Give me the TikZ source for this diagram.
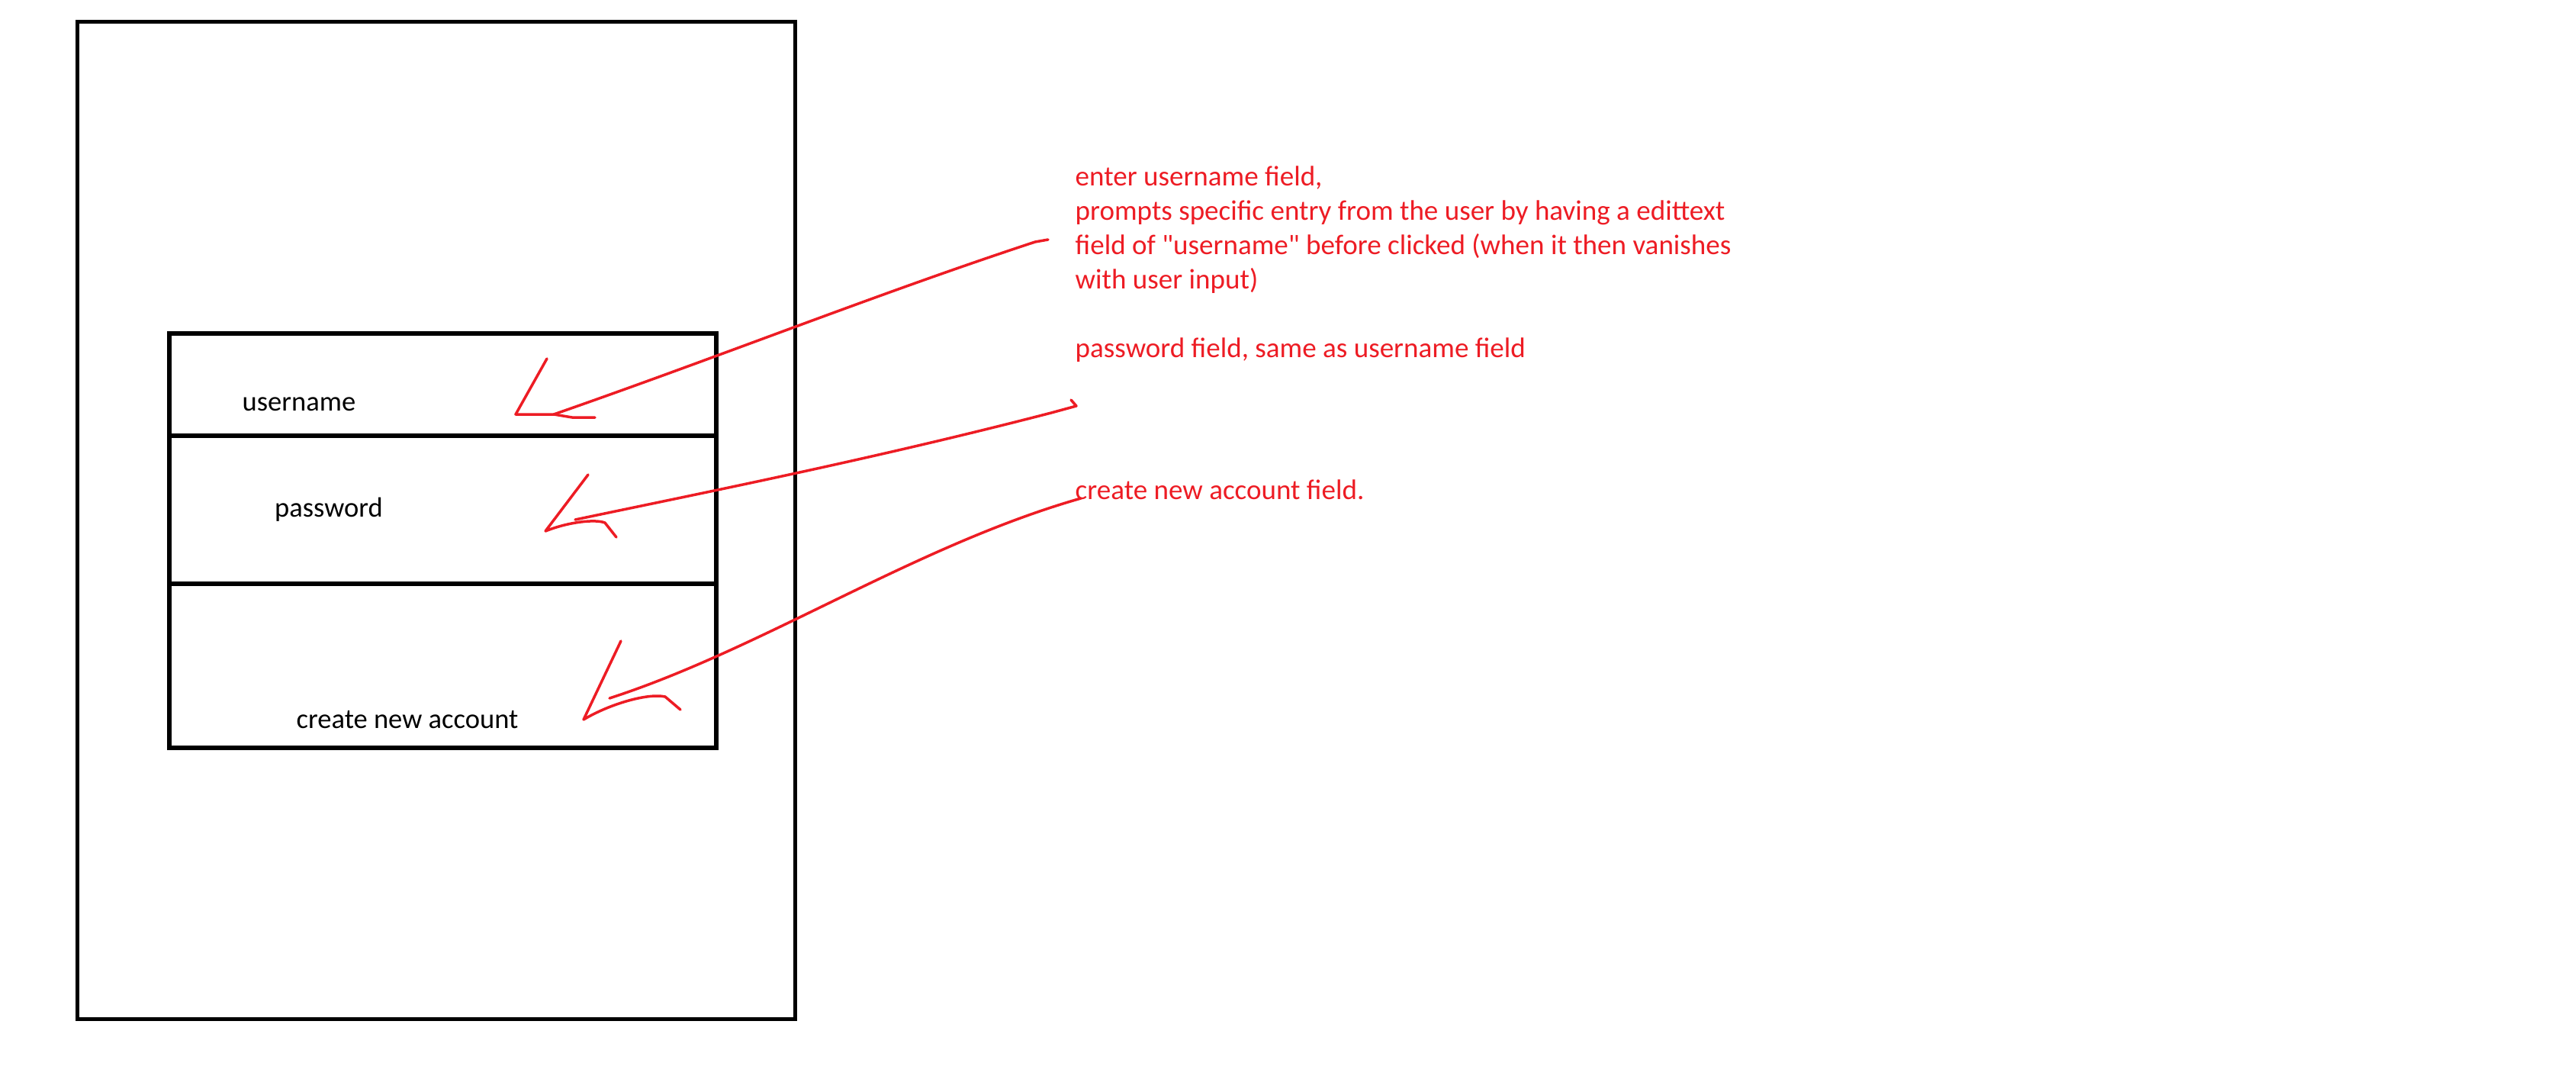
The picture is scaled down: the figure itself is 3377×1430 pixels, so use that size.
\documentclass[tikz,border=0pt]{standalone}
\usepackage{fontspec}
\newfontfamily\calfont{Carlito}
\usetikzlibrary{positioning}
\definecolor{paintred}{RGB}{237,28,36}
\tikzset{
  frame/.style={draw, line width=0.5mm, outer sep=0pt, inner sep=0pt, anchor=north west},
  field/.style={frame, line width=0.62mm, minimum width=71.7mm},
  label text/.style={font=\calfont\fontsize{10.4}{12.8}\selectfont},
  note/.style={text=paintred, align=left, inner sep=0pt, anchor=west, font=\calfont\fontsize{10.55}{12.8}\selectfont},
  scribble/.style={draw=paintred, line width=0.35mm, line cap=round, line join=round},
}

\begin{document}
\begin{tikzpicture}[x=0.1mm, y=-0.1mm]
      \useasboundingbox (0,0) rectangle (3377,1430);

      \node[frame, minimum width=94.1mm, minimum height=130.7mm] (phone) at (101,28) {};
      \node[field, minimum height=13.4mm] (userbox) at (222,437) {};
      \node[field, minimum height=19.4mm, below=0pt of userbox.south west, anchor=north west] (passbox) {};
      \node[field, minimum height=21.5mm, below=0pt of passbox.south west, anchor=north west] (createbox) {};

      \node[label text] (username) at (392,530) {username};
      \node[label text] (password) at (431,668) {password};
      \node[label text] (create) at (534,943) {create new account};

      \node[note] (usernote) at (1409,301) {enter username field,\\
        prompts specific entry from the user by having a edittext\\
        field of "username" before clicked (when it then vanishes\\
        with user input)};
      \node[note] (passnote) at (1409,459) {password field, same as username field};
      \node[note] (createnote) at (1409,642) {create new account field.};

      \coordinate (u start) at (1374,314);
      \coordinate (u end) at (726,543);
      \coordinate (u tip) at (676,543);
      \coordinate (p start) at (1411,532);
      \coordinate (p end) at (754,681);
      \coordinate (p tip) at (715,696);
      \coordinate (c start) at (1417,653);
      \coordinate (c end) at (799,915);
      \coordinate (c tip) at (765,943);

      \draw[scribble] (u start) -- ++(-17,3) .. controls (1150,385) and (950,465) .. (u end);
      \draw[scribble] (717,470) -- (u tip) -- (u end) -- ++(24,4) -- ++(30,0);

      \draw[scribble] (1404,524) -- (p start) -- ++(-33,9) .. controls (1150,600) and (950,640) .. (p end);
      \draw[scribble] (771,622) -- (p tip) .. controls (745,684) and (780,680) .. (793,685) -- (808,704);

      \draw[scribble] (c start) .. controls (1200,715) and (1000,850) .. (c end);
      \draw[scribble] (814,840) -- (c tip) .. controls (800,922) and (850,908) .. (872,913) -- (892,930);
\end{tikzpicture}
\end{document}
